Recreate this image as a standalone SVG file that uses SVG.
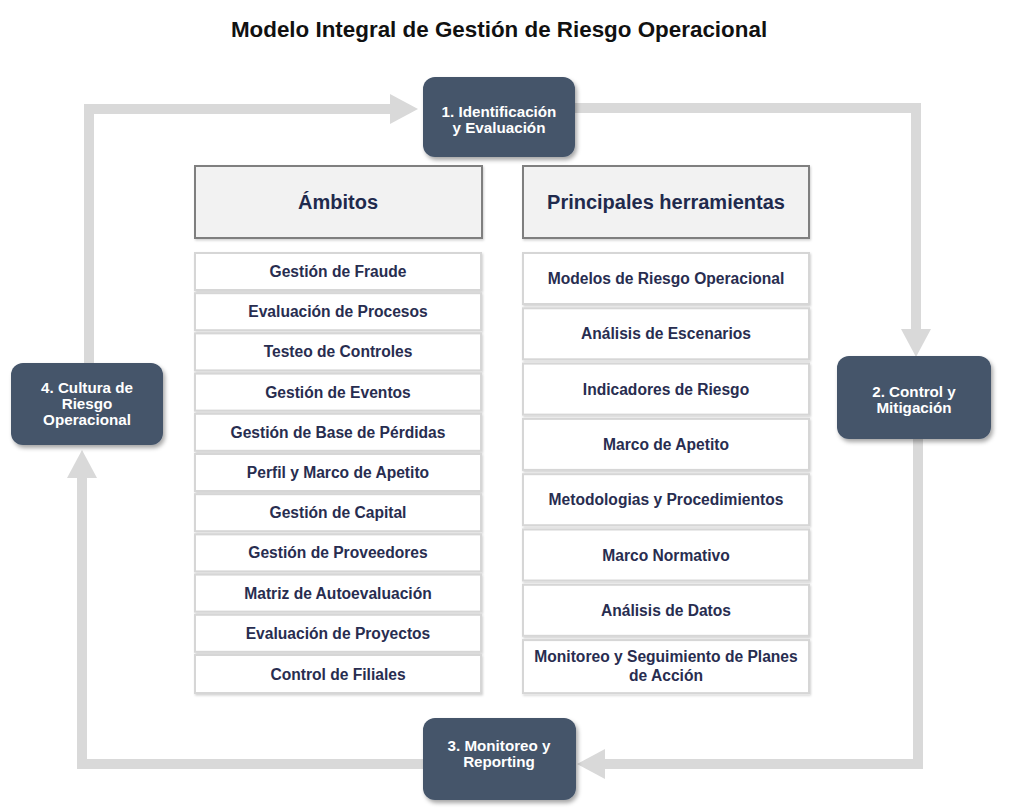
<svg xmlns="http://www.w3.org/2000/svg" width="1029" height="812" viewBox="0 0 1029 812">
<defs>
<style>
.title{font-family:"Liberation Sans",Arial,sans-serif;font-weight:bold;font-size:22.4px;fill:#111;text-anchor:middle}
.node rect{fill:#44546a;filter:url(#sh)}
.node text{font-family:"Liberation Sans",Arial,sans-serif;font-weight:bold;font-size:15.2px;fill:#ffffff;text-anchor:middle}
.hdr rect{fill:#f2f2f2;stroke:#7f7f7f;stroke-width:2;filter:url(#sh2)}
.hdr text{font-family:"Liberation Sans",Arial,sans-serif;font-weight:bold;font-size:20px;fill:#1f2a4d;text-anchor:middle}
.item rect{fill:#ffffff;stroke:#d6d6d6;stroke-width:2;filter:url(#sh2)}
.item text{font-family:"Liberation Sans",Arial,sans-serif;font-weight:bold;font-size:15.6px;fill:#282d50;text-anchor:middle}
.conn path{fill:none;stroke:#d9d9d9;stroke-width:10;stroke-linejoin:miter}
</style>
<filter id="sh" x="-10%" y="-10%" width="125%" height="130%">
<feDropShadow dx="2" dy="3" stdDeviation="2" flood-color="#000" flood-opacity="0.35"/>
</filter>
<filter id="sh2" x="-5%" y="-10%" width="110%" height="130%">
<feDropShadow dx="1" dy="1.5" stdDeviation="1" flood-color="#000" flood-opacity="0.18"/>
</filter>
<marker id="ah" markerUnits="userSpaceOnUse" markerWidth="28" markerHeight="30" refX="0" refY="15" orient="auto" viewBox="0 0 28 30">
<path d="M0,0 L28,15 L0,30 Z" fill="#d9d9d9"/>
</marker>
</defs>
<rect width="1029" height="812" fill="#ffffff"/>
<text class="title" x="499" y="37">Modelo Integral de Gestión de Riesgo Operacional</text>

<g id="connectors" class="conn">
<path d="M575,108 H916 V329" marker-end="url(#ah)"/>
<path d="M918,439 V764 H605" marker-end="url(#ah)"/>
<path d="M423,764 H82 V478" marker-end="url(#ah)"/>
<path d="M89,363 V109 H390" marker-end="url(#ah)"/>
</g>

<g id="node1" class="node"><rect x="423" y="77" width="152" height="80" rx="12"/>
<text x="499" y="117">1. Identificación</text><text x="499" y="133">y Evaluación</text></g>
<g id="node2" class="node"><rect x="837" y="356" width="154" height="83" rx="12"/>
<text x="914" y="397">2. Control y</text><text x="914" y="413">Mitigación</text></g>
<g id="node3" class="node"><rect x="423" y="718" width="153" height="82" rx="12"/>
<text x="499" y="751">3. Monitoreo y</text><text x="499" y="767">Reporting</text></g>
<g id="node4" class="node"><rect x="11" y="363" width="152" height="82" rx="12"/>
<text x="87" y="393">4. Cultura de</text><text x="87" y="409">Riesgo</text><text x="87" y="425">Operacional</text></g>

<g id="hdr-ambitos" class="hdr"><rect x="195" y="166" width="287" height="72"/><text x="338" y="209">Ámbitos</text></g>
<g id="hdr-herramientas" class="hdr"><rect x="523" y="166" width="286" height="72"/><text x="666" y="209">Principales herramientas</text></g>

<g id="ambitos">
<g id="a1" class="item"><rect x="195" y="253" width="286" height="37"/><text x="338" y="277">Gestión de Fraude</text></g>
<g id="a2" class="item"><rect x="195" y="293.2" width="286" height="37"/><text x="338" y="317.2">Evaluación de Procesos</text></g>
<g id="a3" class="item"><rect x="195" y="333.4" width="286" height="37"/><text x="338" y="357.4">Testeo de Controles</text></g>
<g id="a4" class="item"><rect x="195" y="373.6" width="286" height="37"/><text x="338" y="397.6">Gestión de Eventos</text></g>
<g id="a5" class="item"><rect x="195" y="413.8" width="286" height="37"/><text x="338" y="437.8">Gestión de Base de Pérdidas</text></g>
<g id="a6" class="item"><rect x="195" y="454" width="286" height="37"/><text x="338" y="478">Perfil y Marco de Apetito</text></g>
<g id="a7" class="item"><rect x="195" y="494.2" width="286" height="37"/><text x="338" y="518.2">Gestión de Capital</text></g>
<g id="a8" class="item"><rect x="195" y="534.4" width="286" height="37"/><text x="338" y="558.4">Gestión de Proveedores</text></g>
<g id="a9" class="item"><rect x="195" y="574.6" width="286" height="37"/><text x="338" y="598.6">Matriz de Autoevaluación</text></g>
<g id="a10" class="item"><rect x="195" y="614.8" width="286" height="37"/><text x="338" y="638.8">Evaluación de Proyectos</text></g>
<g id="a11" class="item"><rect x="195" y="655" width="286" height="38"/><text x="338" y="679.5">Control de Filiales</text></g>
</g>

<g id="herramientas">
<g id="h1" class="item"><rect x="523" y="253" width="286" height="51"/><text x="666" y="284">Modelos de Riesgo Operacional</text></g>
<g id="h2" class="item"><rect x="523" y="308.3" width="286" height="51"/><text x="666" y="339.3">Análisis de Escenarios</text></g>
<g id="h3" class="item"><rect x="523" y="363.6" width="286" height="51"/><text x="666" y="394.6">Indicadores de Riesgo</text></g>
<g id="h4" class="item"><rect x="523" y="418.9" width="286" height="51"/><text x="666" y="449.9">Marco de Apetito</text></g>
<g id="h5" class="item"><rect x="523" y="474.2" width="286" height="51"/><text x="666" y="505.2">Metodologias y Procedimientos</text></g>
<g id="h6" class="item"><rect x="523" y="529.5" width="286" height="51"/><text x="666" y="560.5">Marco Normativo</text></g>
<g id="h7" class="item"><rect x="523" y="584.8" width="286" height="51"/><text x="666" y="615.8">Análisis de Datos</text></g>
<g id="h8" class="item"><rect x="523" y="640.1" width="286" height="53"/><text x="666" y="662">Monitoreo y Seguimiento de Planes</text><text x="666" y="681">de Acción</text></g>
</g>
</svg>
